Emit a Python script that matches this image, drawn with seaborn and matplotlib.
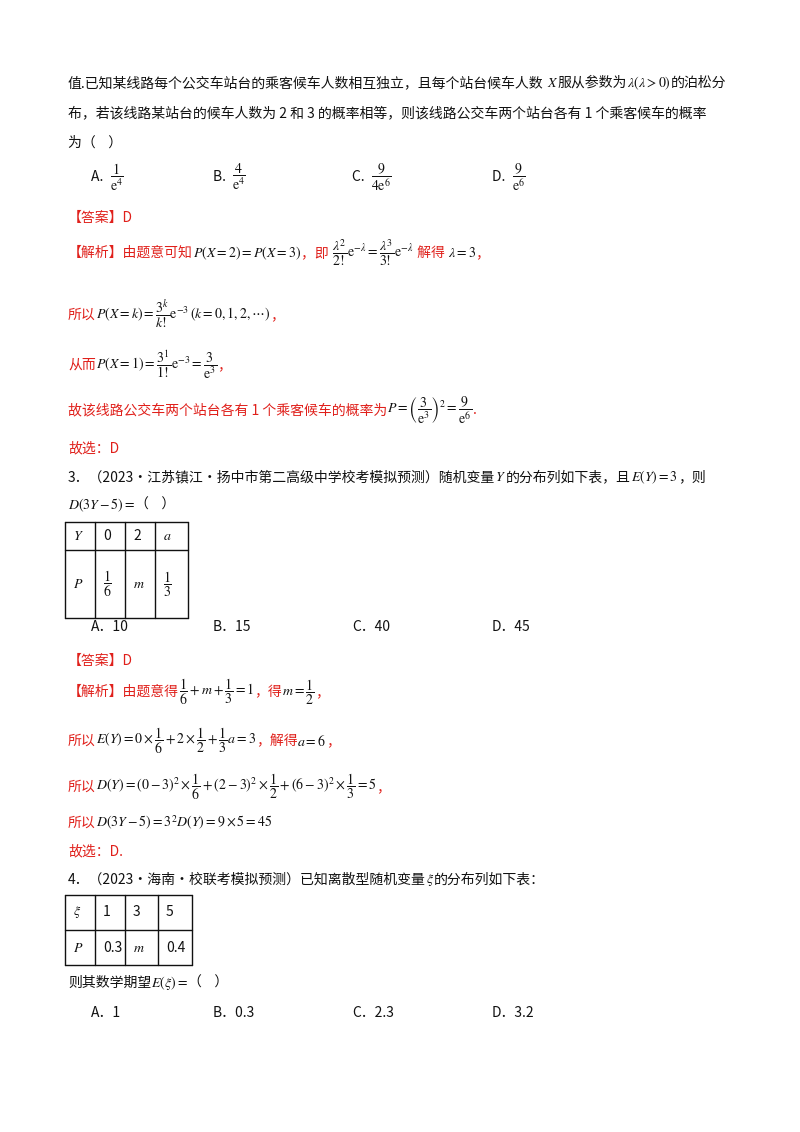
import matplotlib
matplotlib.use("Agg")
import matplotlib.pyplot as plt
import seaborn as sns

sns.set_theme(style="white")
plt.rcParams['font.family'] = ['Noto Sans CJK SC', 'DejaVu Sans']
plt.rcParams['mathtext.fontset'] = 'stix'

RED = "#e0201b"
BLK = "#111111"

# question 2 options
q2_labels = ["A.", "B.", "C.", "D."]
q2_options = [r"$\dfrac{1}{\mathrm{e}^4}$", r"$\dfrac{4}{\mathrm{e}^4}$",
              r"$\dfrac{9}{4\mathrm{e}^6}$", r"$\dfrac{9}{\mathrm{e}^6}$"]
# question 3 table and options
q3_header = ["$Y$", "0", "2", "$a$"]
q3_probs = ["$P$", r"$\dfrac{1}{6}$", "$m$", r"$\dfrac{1}{3}$"]
q3_options = ["A．10", "B．15", "C．40", "D．45"]
# question 4 table and options
q4_header = [r"$\xi$", "1", "3", "5"]
q4_probs = ["$P$", "0.3", "$m$", "0.4"]
q4_options = ["A．1", "B．0.3", "C．2.3", "D．3.2"]
opt_x = [91, 213, 352, 492]

fig = plt.figure(figsize=(8, 11.32), dpi=100)
ax = fig.add_axes([0, 0, 1, 1])
ax.set_xlim(0, 800)
ax.set_ylim(1132, 0)
ax.axis("off")
renderer = fig.canvas.get_renderer()


def line(y, parts, x0=68, size=10):
    x = x0
    for txt, col in parts:
        t = ax.text(x, y, txt, color=col, fontsize=size, va="center", ha="left")
        bb = t.get_window_extent(renderer)
        x += bb.width
    return x


def table(x_edges, y_edges, rows):
    for xe in x_edges:
        ax.plot([xe, xe], [y_edges[0], y_edges[-1]], color=BLK, lw=1)
    for ye in y_edges:
        ax.plot([x_edges[0], x_edges[-1]], [ye, ye], color=BLK, lw=1)
    for r, row in enumerate(rows):
        yc = (y_edges[r] + y_edges[r + 1]) / 2
        for c, val in enumerate(row):
            ax.text(x_edges[c] + 8, yc, val, fontsize=10, va="center", ha="left", color=BLK)


line(83, [("值.已知某线路每个公交车站台的乘客候车人数相互独立，且每个站台候车人数", BLK),
          (" $X$ ", BLK), ("服从参数为", BLK), (r"$\lambda(\lambda>0)$", BLK), ("的泊松分", BLK)])
line(113, [("布，若该线路某站台的候车人数为 2 和 3 的概率相等，则该线路公交车两个站台各有 1 个乘客候车的概率", BLK)])
line(143, [("为（    ）", BLK)])
for lab, opt, x in zip(q2_labels, q2_options, opt_x):
    line(177, [(lab + "  ", BLK), (opt, BLK)], x0=x)

line(218, [("【答案】D", RED)])
line(253, [("【解析】由题意可知", RED), ("$P(X=2)=P(X=3)$", BLK), ("，即 ", RED),
           (r"$\dfrac{\lambda^2}{2!}\mathrm{e}^{-\lambda}=\dfrac{\lambda^3}{3!}\mathrm{e}^{-\lambda}$", BLK),
           (" 解得 ", RED), (r"$\lambda=3$", BLK), ("，", RED)])
line(315, [("所以", RED), (r"$P(X=k)=\dfrac{3^k}{k!}\mathrm{e}^{-3}\,(k=0,1,2,\cdots)$", BLK), ("，", RED)])
line(365, [("从而", RED), (r"$P(X=1)=\dfrac{3^1}{1!}\mathrm{e}^{-3}=\dfrac{3}{\mathrm{e}^3}$", BLK), ("，", RED)])
line(410, [("故该线路公交车两个站台各有 1 个乘客候车的概率为", RED),
           (r"$P=\left(\dfrac{3}{\mathrm{e}^3}\right)^2=\dfrac{9}{\mathrm{e}^6}$", BLK), (".", RED)])
line(448, [("故选：D", RED)])

line(477, [("3．（2023·江苏镇江·扬中市第二高级中学校考模拟预测）随机变量", BLK), ("$Y$", BLK),
           ("的分布列如下表，且", BLK), ("$E(Y)=3$", BLK), ("，则", BLK)])
line(505, [("$D(3Y-5)=$", BLK), ("（    ）", BLK)])
table([65, 95, 125, 155, 188], [522, 550, 618], [q3_header, q3_probs])
for opt, x in zip(q3_options, opt_x):
    line(627, [(opt, BLK)], x0=x)

line(661, [("【答案】D", RED)])
line(692, [("【解析】由题意得", RED), (r"$\dfrac{1}{6}+m+\dfrac{1}{3}=1$", BLK), ("，得", RED),
           (r"$m=\dfrac{1}{2}$", BLK), ("，", RED)])
line(741, [("所以", RED), (r"$E(Y)=0\times\dfrac{1}{6}+2\times\dfrac{1}{2}+\dfrac{1}{3}a=3$", BLK),
           ("，解得", RED), ("$a=6$", BLK), ("，", RED)])
line(787, [("所以", RED), (r"$D(Y)=(0-3)^2\times\dfrac{1}{6}+(2-3)^2\times\dfrac{1}{2}+(6-3)^2\times\dfrac{1}{3}=5$", BLK),
           ("，", RED)])
line(823, [("所以", RED), (r"$D(3Y-5)=3^2D(Y)=9\times5=45$", BLK)])
line(851, [("故选：D.", RED)])

line(880, [("4．（2023·海南·校联考模拟预测）已知离散型随机变量", BLK), (r"$\xi$", BLK), ("的分布列如下表：", BLK)])
table([65, 95, 125, 158, 192], [895, 930, 965], [q4_header, q4_probs])
line(983, [("则其数学期望", BLK), (r"$E(\xi)=$", BLK), ("（    ）", BLK)])
for opt, x in zip(q4_options, opt_x):
    line(1013, [(opt, BLK)], x0=x)

fig.savefig("out.png", dpi=100, facecolor="white")
